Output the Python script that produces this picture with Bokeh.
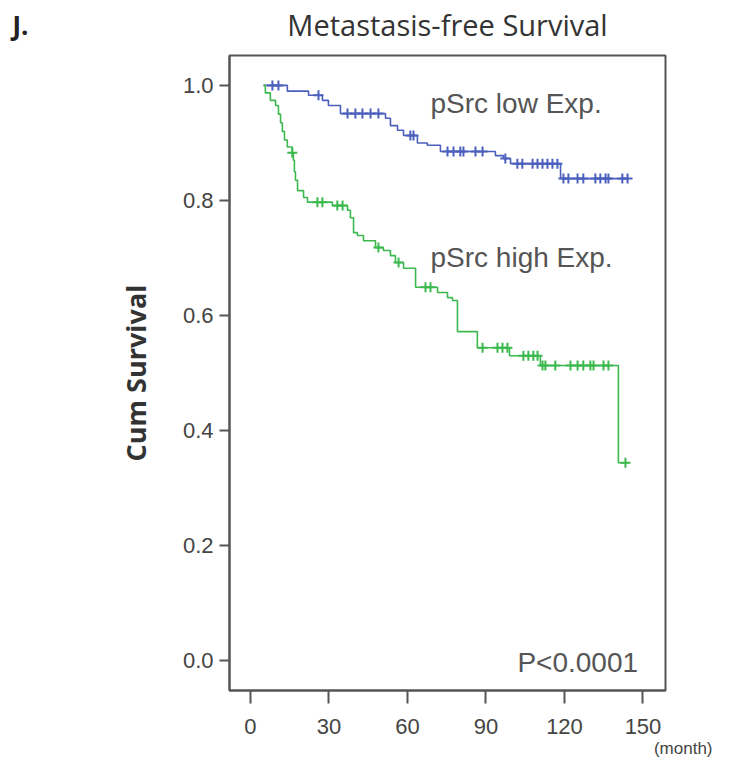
import numpy as np
from bokeh.plotting import figure
from bokeh.models import Range1d, FixedTicker, Label, Title
from bokeh.layouts import column
from bokeh.embed import file_html
from bokeh.resources import INLINE

# ---------------- data ----------------
x_ticks = [0, 30, 60, 90, 120, 150]
y_ticks = [0.0, 0.2, 0.4, 0.6, 0.8, 1.0]
y_tick_labels = ["0.0", "0.2", "0.4", "0.6", "0.8", "1.0"]

low_time = [5.0, 14.1, 22.2, 27.5, 29.8, 34.4, 51.6, 53.5, 56.2, 58.5, 63.8,
            67.6, 72.6, 93.6, 96.7, 99.4, 118.5, 144.4]
low_surv = [1.0, 0.990, 0.983, 0.974, 0.965, 0.951, 0.943, 0.930, 0.922, 0.913,
            0.900, 0.896, 0.885, 0.878, 0.873, 0.864, 0.838, 0.838]
low_censor = [8.4, 10.7, 26.0, 37.1, 40.1, 42.8, 45.9, 48.9, 61.1, 62.3, 75.3,
              77.6, 80.2, 81.4, 86.0, 88.7, 97.4, 102.0, 103.9, 107.8, 109.7,
              111.6, 113.5, 115.4, 117.3, 119.6, 121.5, 125.0, 127.2, 131.8,
              133.7, 135.7, 136.8, 142.1, 144.1]

high_time = [5.0, 5.7, 7.6, 9.6, 10.7, 11.5, 12.2, 13.0, 14.1, 16.0, 16.4, 16.8,
             17.2, 18.0, 20.3, 21.8, 31.3, 37.1, 38.2, 39.4, 40.9, 43.2, 47.8,
             50.8, 53.5, 55.4, 58.5, 63.1, 71.5, 75.3, 77.2, 79.1, 86.7, 99.0,
             110.8, 140.6, 144.4]
high_surv = [1.0, 0.987, 0.974, 0.965, 0.950, 0.935, 0.920, 0.905, 0.893, 0.883,
             0.870, 0.850, 0.835, 0.817, 0.805, 0.797, 0.791, 0.783, 0.770,
             0.744, 0.739, 0.730, 0.718, 0.713, 0.704, 0.692, 0.682, 0.649,
             0.640, 0.631, 0.626, 0.572, 0.544, 0.530, 0.513, 0.344, 0.344]
high_censor = [16.0, 25.6, 27.5, 33.2, 35.2, 48.9, 56.6, 66.9, 68.8, 88.7, 94.4,
               96.3, 98.2, 104.3, 106.2, 108.1, 109.7, 111.6, 112.7, 116.5,
               122.3, 125.0, 127.2, 129.9, 131.1, 134.9, 136.8, 143.3]

LOW_COLOR = "#4b5fbd"
HIGH_COLOR = "#3cb94e"
AXIS_COLOR = "#555555"

W = 727
HEAD_H = 45


def censor_y(times, surv, ct):
    t = np.asarray(times)
    s = np.asarray(surv)
    idx = np.searchsorted(t, np.asarray(ct), side="right") - 1
    idx = np.clip(idx, 0, len(s) - 1)
    return s[idx]


# ---------------- header strip (panel letter + title) ----------------
head = figure(width=W, height=HEAD_H, output_backend="svg", toolbar_location=None,
              x_range=Range1d(0, W), y_range=Range1d(HEAD_H, 0),
              x_axis_location=None, y_axis_location=None,
              min_border_left=0, min_border_right=0, min_border_top=0,
              min_border_bottom=0)
if "frame_align" in head.properties():
    head.frame_align = False
head.outline_line_color = None
head.background_fill_color = "white"
head.border_fill_color = "white"
head.xgrid.visible = False
head.ygrid.visible = False
head.add_layout(Label(x=12, y=24, text="J.", text_align="left",
                      text_baseline="alphabetic", text_font="Open Sans",
                      text_font_style="bold", text_font_size="26px",
                      text_color="#222222"))
head.add_layout(Label(x=447, y=24, text="Metastasis-free Survival",
                      text_align="center", text_baseline="alphabetic",
                      text_font="Open Sans", text_font_size="29px",
                      text_color="#333333"))

# ---------------- main plot ----------------
p = figure(width=W, height=758 - HEAD_H, output_backend="svg", toolbar_location=None,
           x_range=Range1d(-8.0, 158.6), y_range=Range1d(-0.052, 1.052),
           min_border_left=229, min_border_right=62, min_border_top=55 - HEAD_H,
           min_border_bottom=68)
if "frame_align" in p.properties():
    p.frame_align = False

p.background_fill_color = "white"
p.border_fill_color = "white"
p.outline_line_color = AXIS_COLOR
p.outline_line_width = 2
p.xgrid.visible = False
p.ygrid.visible = False

# curves
p.step(low_time, low_surv, mode="after", line_color=LOW_COLOR, line_width=1.6)
p.step(high_time, high_surv, mode="after", line_color=HIGH_COLOR, line_width=1.6)

p.scatter(low_censor, censor_y(low_time, low_surv, low_censor), marker="cross",
          size=10, line_color=LOW_COLOR, line_width=2)
p.scatter(high_censor, censor_y(high_time, high_surv, high_censor), marker="cross",
          size=10, line_color=HIGH_COLOR, line_width=2)

# axes
for ax in (p.xaxis[0], p.yaxis[0]):
    ax.axis_line_color = AXIS_COLOR
    ax.axis_line_width = 2
    ax.major_tick_line_color = AXIS_COLOR
    ax.major_tick_line_width = 2
    ax.minor_tick_line_color = None
    ax.major_tick_in = 0
    ax.major_label_text_font = "Liberation Sans"
    ax.major_label_text_font_size = "22px"
    ax.major_label_text_color = "#444444"

p.xaxis.ticker = FixedTicker(ticks=x_ticks)
p.xaxis.major_tick_out = 13
p.xaxis.major_label_standoff = 15

p.yaxis.ticker = FixedTicker(ticks=y_ticks)
p.yaxis.major_label_overrides = {t: l for t, l in zip(y_ticks, y_tick_labels)}
p.yaxis.major_tick_out = 10
p.yaxis.major_label_standoff = 6
p.yaxis.axis_label = "Cum Survival"
p.yaxis.axis_label_text_font = "Open Sans"
p.yaxis.axis_label_text_font_style = "bold"
p.yaxis.axis_label_text_font_size = "27px"
p.yaxis.axis_label_text_color = "#333333"
p.yaxis.axis_label_standoff = 26

# unit note under the x axis, right-aligned
month_title = Title(text="(month)", align="right", offset=-47, standoff=0,
                    text_font="Liberation Sans", text_font_style="normal",
                    text_font_size="17px", text_color="#444444")
p.add_layout(month_title, "below")

# texts inside the frame
p.add_layout(Label(x=68.8, y=0.968, text="pSrc low Exp.", text_align="left",
                   text_baseline="alphabetic", text_font="Liberation Sans",
                   text_font_size="28px", text_color="#555555"))
p.add_layout(Label(x=68.8, y=0.700, text="pSrc high Exp.", text_align="left",
                   text_baseline="alphabetic", text_font="Liberation Sans",
                   text_font_size="28px", text_color="#555555"))
p.add_layout(Label(x=102.0, y=-0.004, text="P<0.0001", text_align="left",
                   text_baseline="alphabetic", text_font="Liberation Sans",
                   text_font_size="28px", text_color="#555555"))

layout = column(head, p, spacing=0)
open("out.html", "w").write(file_html(layout, INLINE))
